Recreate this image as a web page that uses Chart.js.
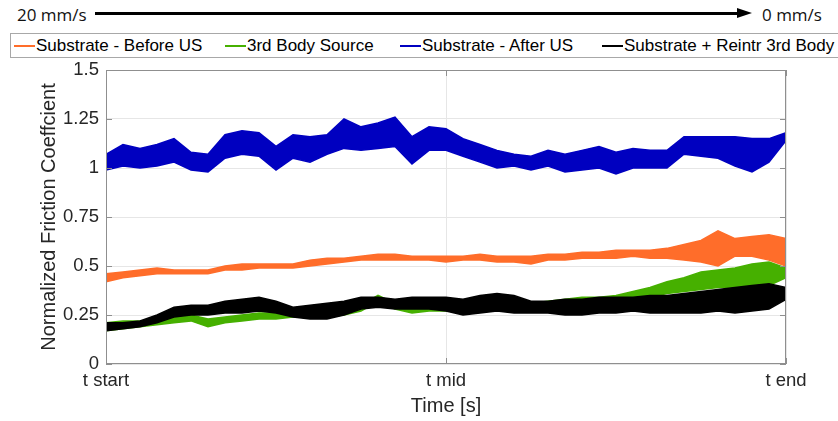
<!DOCTYPE html>
<html>
<head>
<meta charset="utf-8">
<script src="https://cdn.jsdelivr.net/npm/chart.js@4.4.1/dist/chart.umd.min.js"></script>
<style>
  body { margin: 0; width: 838px; height: 421px; background: #fff; position: relative; overflow: hidden; font-family: "Liberation Sans", Arial, sans-serif; }
  .speed { position: absolute; top: 3px; font-family: "Open Sans", sans-serif; font-size: 17px; color: #111; }
  .arrow { position: absolute; left: 95px; top: 12px; width: 642px; height: 3px; background: #000; }
  .arrow:after { content: ""; position: absolute; right: -15px; top: -4px; border-left: 15px solid #000; border-top: 5.5px solid transparent; border-bottom: 5.5px solid transparent; }
  .legend { position: absolute; left: 10px; top: 33px; width: 840px; height: 23px; border: 1px solid #a8a8a8; background: #fff; }
  .item { position: absolute; top: 0; height: 23px; line-height: 23px; font-size: 17px; color: #000; white-space: nowrap; }
  .item i { display: inline-block; width: 21px; height: 2px; vertical-align: middle; margin-right: 1px; position: relative; top: -1px; }
  #wrap { position: absolute; left: 0; top: 60px; }
</style>
</head>
<body>
<div class="speed" style="left:17px">20 mm/s</div>
<div class="arrow"></div>
<div class="speed" style="left:762px">0 mm/s</div>
<div class="legend" id="legend"></div>
<div id="wrap"><canvas id="chart" width="838" height="361"></canvas></div>
<script>
// sample positions along the run, % of total time
const timePct = [0, 2.5, 5, 7.5, 10, 12.5, 15, 17.5, 20, 22.5, 25, 27.5, 30, 32.5, 35, 37.5, 40, 42.5, 45, 47.5,
  50, 52.5, 55, 57.5, 60, 62.5, 65, 67.5, 70, 72.5, 75, 77.5, 80, 82.5, 85, 87.5, 90, 92.5, 95, 97.5, 100];
const xTickLabels = ['t start', 't mid', 't end'];
const yTickLabels = ['0', '0.25', '0.5', '0.75', '1', '1.25', '1.5'];

const seriesNames = ['Substrate - Before US', '3rd Body Source', 'Substrate - After US', 'Substrate + Reintr 3rd Body'];

// upper / lower edge of each noisy trace
const beforeHi = [0.46, 0.47, 0.48, 0.49, 0.48, 0.48, 0.48, 0.50, 0.51, 0.51, 0.51, 0.51, 0.53, 0.54, 0.54, 0.55, 0.56, 0.56, 0.55, 0.55,
  0.55, 0.55, 0.56, 0.55, 0.55, 0.55, 0.56, 0.56, 0.57, 0.57, 0.58, 0.58, 0.58, 0.59, 0.61, 0.63, 0.68, 0.64, 0.65, 0.66, 0.64];
const beforeLo = [0.42, 0.44, 0.45, 0.46, 0.46, 0.46, 0.46, 0.48, 0.48, 0.49, 0.49, 0.49, 0.50, 0.51, 0.52, 0.53, 0.53, 0.53, 0.53, 0.53,
  0.52, 0.53, 0.53, 0.52, 0.52, 0.51, 0.53, 0.53, 0.54, 0.54, 0.54, 0.55, 0.54, 0.54, 0.53, 0.52, 0.50, 0.55, 0.55, 0.53, 0.50];

const sourceHi = [0.21, 0.22, 0.22, 0.23, 0.24, 0.25, 0.23, 0.24, 0.25, 0.26, 0.26, 0.26, 0.27, 0.27, 0.28, 0.30, 0.35, 0.31, 0.30, 0.30,
  0.30, 0.30, 0.30, 0.30, 0.30, 0.31, 0.32, 0.33, 0.34, 0.34, 0.35, 0.37, 0.39, 0.42, 0.44, 0.47, 0.48, 0.49, 0.51, 0.52, 0.49];
const sourceLo = [0.17, 0.18, 0.19, 0.20, 0.21, 0.22, 0.19, 0.21, 0.22, 0.23, 0.23, 0.24, 0.24, 0.24, 0.25, 0.27, 0.32, 0.28, 0.26, 0.27,
  0.27, 0.27, 0.27, 0.27, 0.27, 0.28, 0.29, 0.30, 0.31, 0.32, 0.32, 0.33, 0.34, 0.36, 0.37, 0.38, 0.39, 0.39, 0.40, 0.40, 0.44];

const afterHi = [1.07, 1.12, 1.10, 1.12, 1.15, 1.08, 1.07, 1.17, 1.19, 1.18, 1.11, 1.17, 1.16, 1.17, 1.25, 1.21, 1.23, 1.26, 1.16, 1.21,
  1.20, 1.15, 1.12, 1.09, 1.07, 1.06, 1.09, 1.07, 1.09, 1.11, 1.08, 1.10, 1.09, 1.09, 1.16, 1.16, 1.16, 1.16, 1.15, 1.15, 1.18];
const afterLo = [0.99, 1.01, 1.00, 1.01, 1.03, 0.99, 0.98, 1.05, 1.07, 1.06, 0.99, 1.05, 1.03, 1.07, 1.10, 1.09, 1.10, 1.11, 1.02, 1.09,
  1.09, 1.06, 1.03, 1.00, 1.01, 0.99, 1.01, 0.98, 0.99, 1.00, 0.97, 1.00, 1.00, 1.00, 1.07, 1.06, 1.05, 1.01, 0.98, 1.03, 1.14];

const reintrHi = [0.21, 0.21, 0.22, 0.25, 0.29, 0.30, 0.30, 0.32, 0.33, 0.34, 0.32, 0.29, 0.30, 0.31, 0.32, 0.34, 0.34, 0.33, 0.34, 0.34,
  0.34, 0.33, 0.35, 0.36, 0.35, 0.32, 0.32, 0.33, 0.33, 0.34, 0.34, 0.34, 0.35, 0.35, 0.36, 0.37, 0.38, 0.39, 0.40, 0.41, 0.39];
const reintrLo = [0.17, 0.18, 0.19, 0.21, 0.24, 0.25, 0.25, 0.26, 0.26, 0.27, 0.26, 0.24, 0.23, 0.23, 0.25, 0.28, 0.29, 0.28, 0.28, 0.28,
  0.27, 0.25, 0.26, 0.27, 0.26, 0.26, 0.26, 0.25, 0.25, 0.26, 0.26, 0.27, 0.26, 0.26, 0.26, 0.26, 0.27, 0.26, 0.27, 0.28, 0.33];

const colors = ['#ff6d2a', '#46b000', '#0000c0', '#000000'];
const legendLeft = [13, 224, 399, 601];

const bands = [
  [beforeHi, beforeLo, 4],
  [sourceHi, sourceLo, 3],
  [afterHi, afterLo, 2],
  [reintrHi, reintrLo, 1]
];

function pts(vals) {
  return timePct.map((t, i) => ({ x: t, y: vals[i] }));
}

const datasets = [];
bands.forEach((b, i) => {
  datasets.push({ label: seriesNames[i], data: pts(b[0]), borderColor: colors[i], borderWidth: 1.5, pointRadius: 0, fill: false, order: b[2] });
  datasets.push({ label: seriesNames[i], data: pts(b[1]), borderColor: colors[i], backgroundColor: colors[i], borderWidth: 1.5, pointRadius: 0, fill: '-1', order: b[2] });
});

// legend box
const legend = document.getElementById('legend');
seriesNames.forEach((name, i) => {
  const el = document.createElement('div');
  el.className = 'item';
  el.style.left = (legendLeft[i] - 10) + 'px';
  el.innerHTML = '<i style="background:' + colors[i] + '"></i>' + name;
  legend.appendChild(el);
});

// axes box + inward tick marks like the original figure
const boxPlugin = {
  id: 'box',
  afterDatasetsDraw(chart) {
    const { ctx, chartArea: a, scales: { x, y } } = chart;
    ctx.save();
    ctx.strokeStyle = '#8f8f8f';
    ctx.lineWidth = 1;
    ctx.strokeRect(a.left + 0.5, a.top + 0.5, a.width - 1, a.height - 1);
    ctx.beginPath();
    y.ticks.forEach(t => {
      const p = Math.round(y.getPixelForValue(t.value)) + 0.5;
      ctx.moveTo(a.left, p); ctx.lineTo(a.left + 6, p);
      ctx.moveTo(a.right - 6, p); ctx.lineTo(a.right, p);
    });
    x.ticks.forEach(t => {
      const p = Math.round(x.getPixelForValue(t.value)) + 0.5;
      ctx.moveTo(p, a.top); ctx.lineTo(p, a.top + 6);
      ctx.moveTo(p, a.bottom); ctx.lineTo(p, a.bottom - 6);
    });
    ctx.stroke();
    ctx.restore();
  }
};

const tickFont = { family: '"Liberation Sans", Arial, sans-serif', size: 18.5 };
const titleFont = { family: '"Liberation Sans", Arial, sans-serif', size: 20 };

new Chart(document.getElementById('chart'), {
  type: 'line',
  data: { datasets: datasets },
  options: {
    responsive: false,
    animation: false,
    devicePixelRatio: 1,
    layout: { padding: { top: 10, right: 52, bottom: 0, left: 0 } },
    plugins: { legend: { display: false }, tooltip: { enabled: false } },
    scales: {
      x: {
        type: 'linear', min: 0, max: 100,
        afterFit(scale) { scale.height = 57; },
        ticks: { stepSize: 50, padding: 6, color: '#262626', font: tickFont, maxRotation: 0,
          callback: (v) => xTickLabels[v / 50] },
        grid: { color: '#e6e6e6', drawTicks: false },
        border: { display: false },
        title: { display: true, text: 'Time [s]', color: '#262626', font: titleFont, padding: { top: 0, bottom: 3 } }
      },
      y: {
        min: 0, max: 1.5,
        afterFit(scale) { scale.width = 106; scale.paddingTop = 10; scale.paddingBottom = 0; },
        ticks: { stepSize: 0.25, padding: 7, color: '#262626', font: tickFont,
          callback: (v, i) => yTickLabels[i] },
        grid: { color: '#e6e6e6', drawTicks: false },
        border: { display: false },
        title: { display: true, text: 'Normalized Friction Coeffcient', color: '#262626', font: titleFont, padding: { top: 37, bottom: 0 } }
      }
    }
  },
  plugins: [boxPlugin]
});
</script>
</body>
</html>
